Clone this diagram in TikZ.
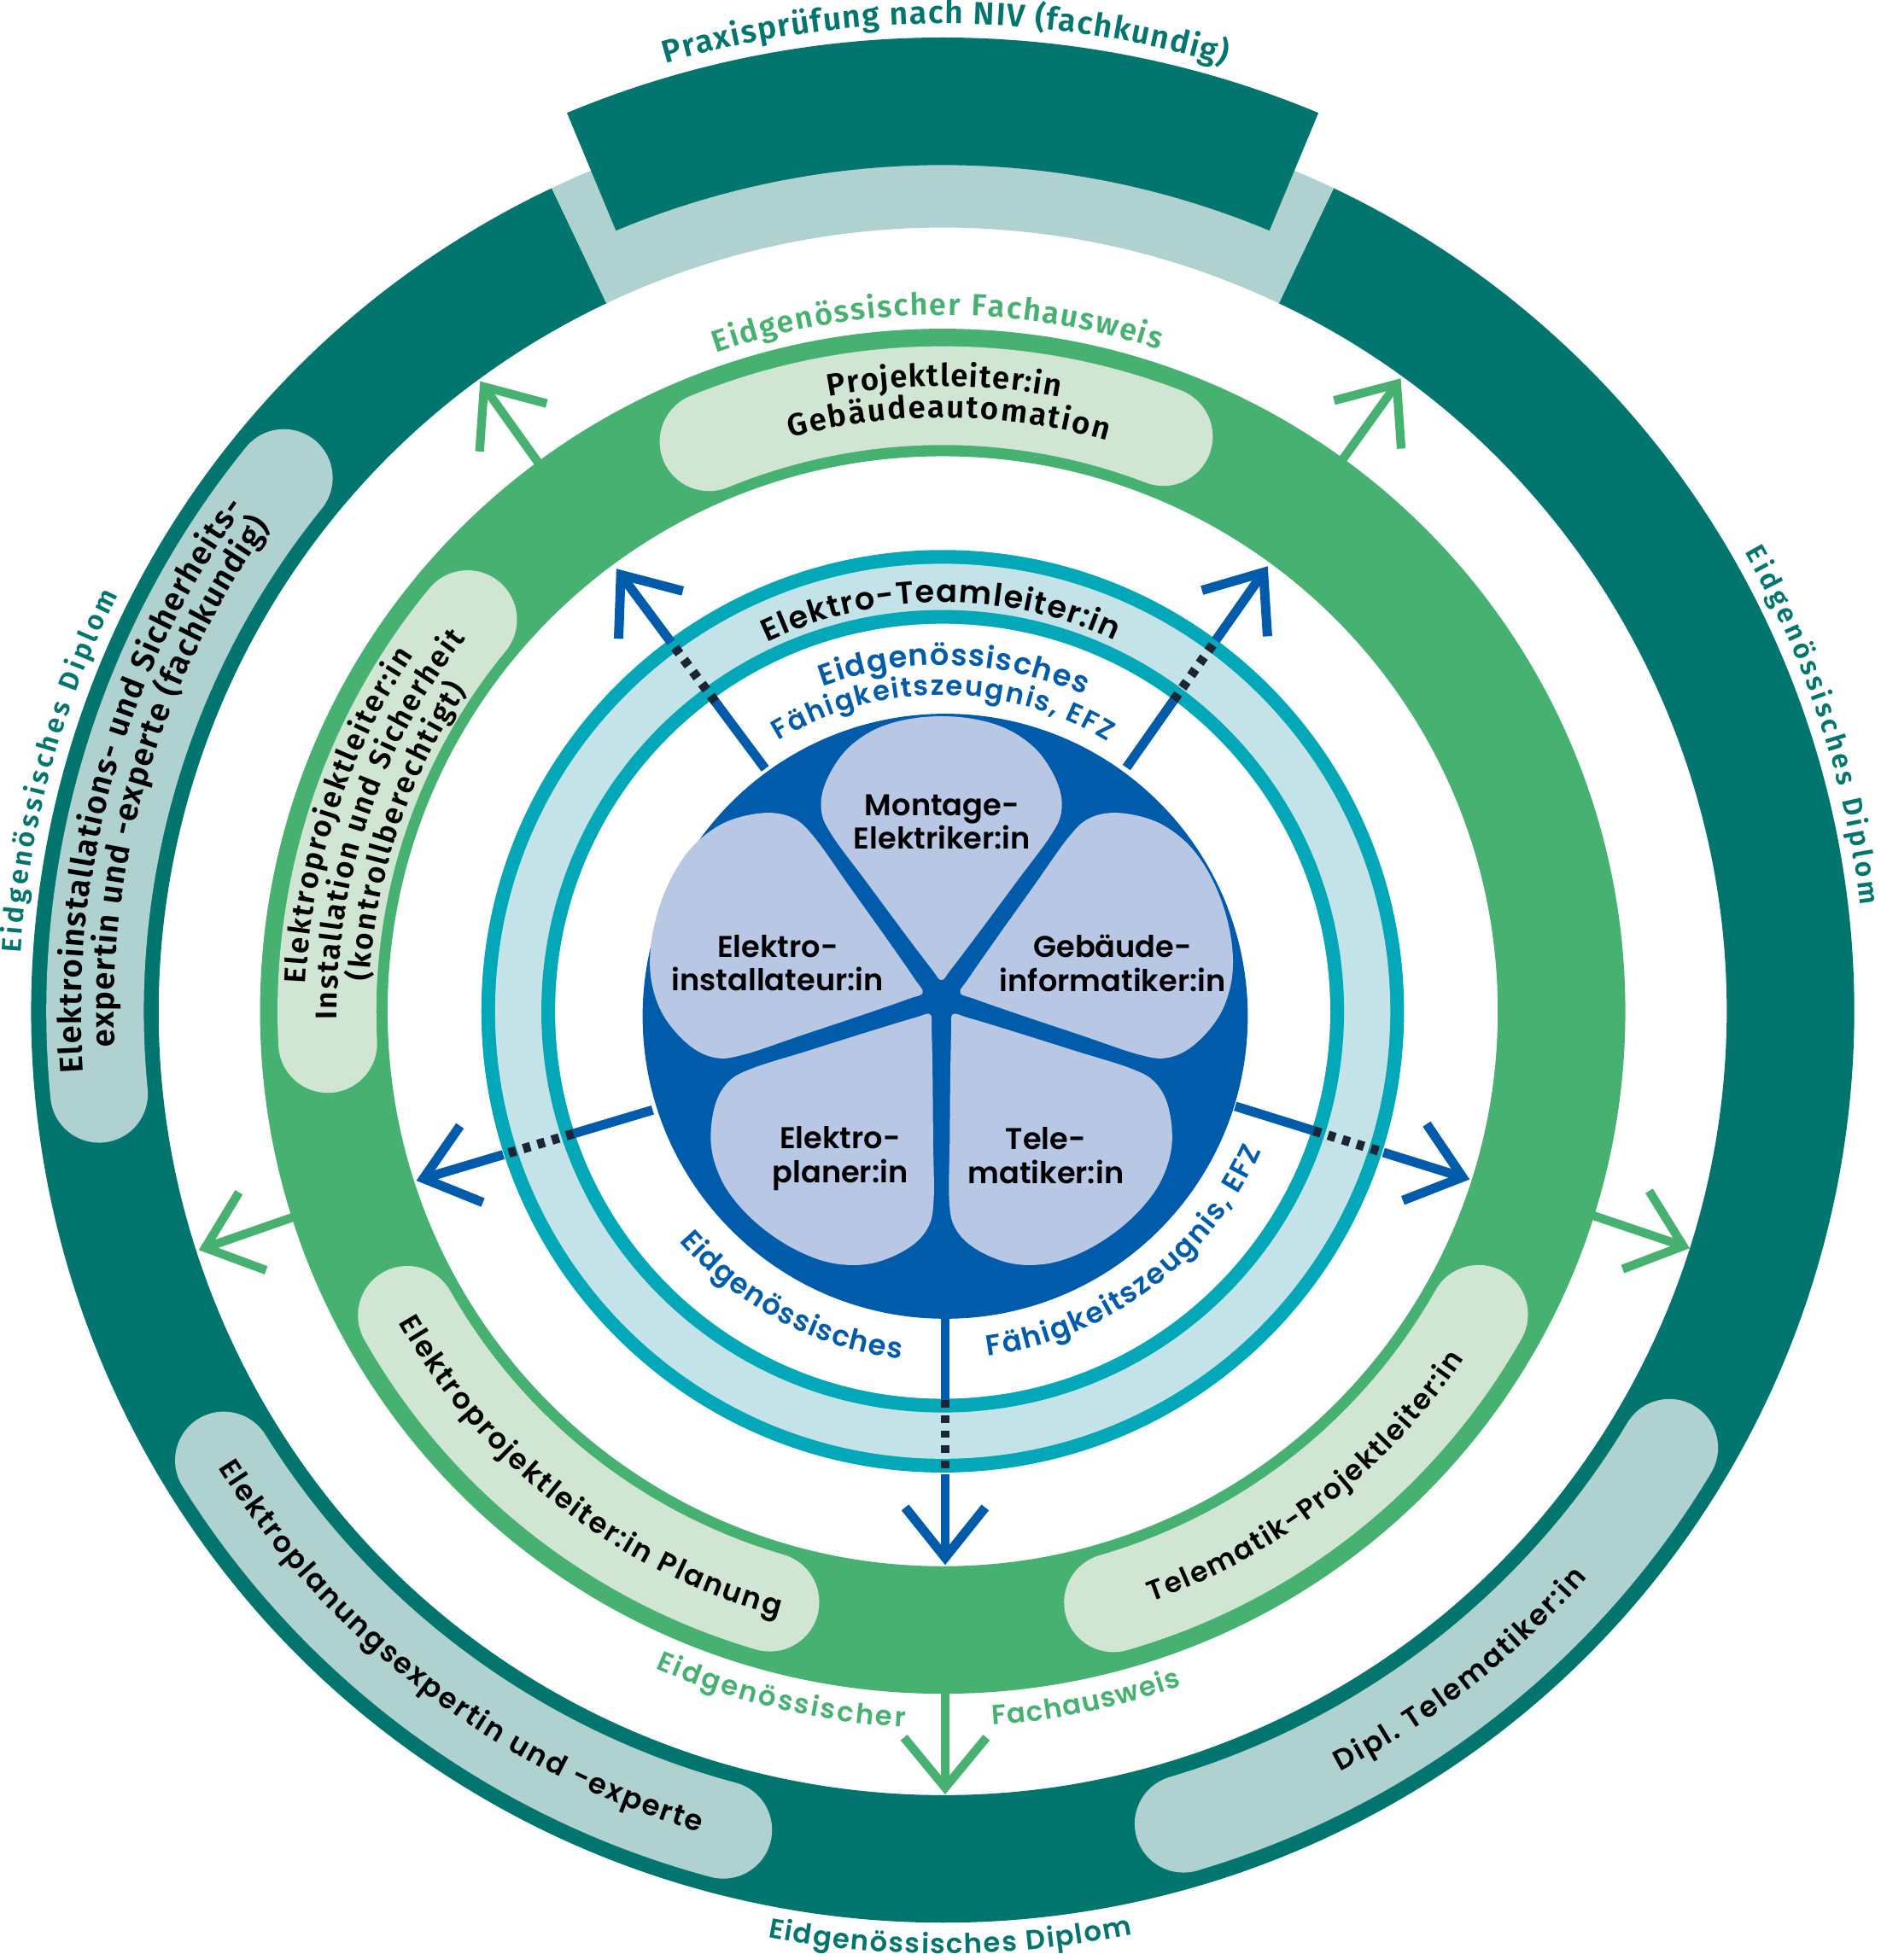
\documentclass[tikz,border=0pt]{standalone}
\usepackage{fontspec}
\usetikzlibrary{arrows.meta,decorations.text,calc}
\newfontfamily\fira{Fira Sans}[BoldFont={Fira Sans SemiBold}]
\newfontfamily\pop{Poppins}[BoldFont={Poppins SemiBold}]
\definecolor{dteal}{RGB}{2,118,110}
\definecolor{lteal}{RGB}{175,209,207}
\definecolor{gring}{RGB}{71,177,113}
\definecolor{lgreen}{RGB}{208,229,210}
\definecolor{tealring}{RGB}{3,168,184}
\definecolor{tealband}{RGB}{196,227,232}
\definecolor{dblue}{RGB}{0,91,170}
\definecolor{petalc}{RGB}{184,199,228}
\definecolor{navy}{RGB}{28,37,56}
\newcommand\arctext[7]{%
  \path[decorate,decoration={text along path,text align=fit to path,text color=#3,
    text={|#1\fontsize{#2}{#2}\selectfont|#7}}]
    (#5:#4) arc[start angle=#5,end angle=#6,radius=#4];}
\newcommand\petalshape[2]{%
  \begin{scope}[shift={(F)},rotate=#1-90,scale=#2]
    \fill[petalc] plot[smooth cycle,tension=0.6] coordinates {(0,15) (8,24) (30,53) (60,93.5) (87,130) (96,150) (93,172) (78,197) (56,214) (30,223) (0,226) (-30,223) (-56,214) (-78,197) (-93,172) (-96,150) (-87,130) (-60,93.5) (-30,53) (-8,24)};
  \end{scope}}
\begin{document}
\begin{tikzpicture}[x=1pt,y=1pt,
  bluearr/.style={line width=7.5pt,draw=dblue},
  bluehead/.style={-{Straight Barb[length=40pt,width=64pt]}},
  greenarr/.style={line width=7pt,draw=gring,-{Straight Barb[length=40pt,width=66pt]}},
  dashseg/.style={line width=7.5pt,draw=navy,dash pattern=on 6pt off 6pt},
  pilld/.style={line width=78pt,line cap=round,draw=lteal},
  pillg/.style={line width=79pt,line cap=round,draw=lgreen},
  petaltext/.style={font=\pop\bfseries\fontsize{24}{27}\selectfont,align=center,inner sep=0pt,text=black}]
\useasboundingbox (-754,-759) rectangle (750,809);
\fill[white] (-754,-759) rectangle (750,809);
\coordinate (C) at (0,0);
\coordinate (F) at (-1,10);
% outer ring
\draw[line width=102pt,dteal] (115.4:678) arc[start angle=115.4,end angle=424.6,radius=678];
\draw[line width=102pt,lteal] (64.6:678) arc[start angle=64.6,end angle=115.4,radius=678];
\draw[line width=102pt,dteal] (67.3:728) arc[start angle=67.3,end angle=112.7,radius=728];
% dark pills
\draw[pilld] (141:678) arc[start angle=141,end angle=185.6,radius=678];
\draw[pilld] (212:678) arc[start angle=212,end angle=255,radius=678];
\draw[pilld] (286.5:678) arc[start angle=286.5,end angle=329,radius=678];
% green ring
\draw[line width=102pt,gring] (C) circle[radius=495];
\draw[pillg] (69:492.5) arc[start angle=69,end angle=112.3,radius=492.5];
\draw[pillg] (140.5:492.5) arc[start angle=140.5,end angle=183,radius=492.5];
\draw[pillg] (209.6:492.5) arc[start angle=209.6,end angle=253.7,radius=492.5];
\draw[pillg] (286.1:492.5) arc[start angle=286.1,end angle=330.5,radius=492.5];
% green arrows
\coordinate (gs1) at (-315,427); \coordinate (gt1) at (-370,504);
\coordinate (gs2) at (311,429); \coordinate (gt2) at (366.4,506.3);
\coordinate (gs3) at (2,-535); \coordinate (gt3) at (2,-626.5);
\coordinate (gs4) at (-503,-159); \coordinate (gt4) at (-595,-191);
\coordinate (gs5) at (505.4,-158.4); \coordinate (gt5) at (597.5,-189.6);
\foreach \i in {1,...,5} {\draw[greenarr] (gs\i) -- (gt\i);}
% teal rings
\fill[tealring] (C) circle[radius=369];
\fill[tealband] (C) circle[radius=358];
\fill[tealring] (C) circle[radius=321];
\fill[white] (C) circle[radius=310];
% blue core
\fill[dblue] (2,-4) circle[radius=242];
% blue arrows
\coordinate (bs1) at (-142,194); \coordinate (bt1) at (-261,354);
\coordinate (bs2) at (147,195); \coordinate (bt2) at (260,356);
\coordinate (bs3) at (2,-245); \coordinate (bt3) at (2,-443);
\coordinate (bs4) at (-232,-79); \coordinate (bt4) at (-421,-135.5);
\coordinate (bs5) at (234,-76); \coordinate (bt5) at (421.5,-134.5);
\foreach \i in {1,...,5} {
  \coordinate (ba\i) at ($(bs\i)!0.335!(bt\i)$);
  \coordinate (bb\i) at ($(bs\i)!0.632!(bt\i)$);
  \draw[bluearr] (bs\i) -- (ba\i);
  \draw[dashseg] (ba\i) -- (bb\i);
  \draw[bluearr,bluehead] (bb\i) -- (bt\i);
}
% petals
\petalshape{90}{1}
\petalshape{162}{1.05}
\petalshape{234}{1.03}
\petalshape{306}{1.03}
\petalshape{18}{1.05}
\node[petaltext] (mont) at (-0.5,151.5) {Montage-\\Elektriker:in};
\node[petaltext] (inst) at (-132,38.5) {Elektro-\\installateur:in};
\node[petaltext] (gebi) at (136,38.5) {Gebäude-\\informatiker:in};
\node[petaltext] (plan) at (-82,-117.75) {Elektro-\\planer:in};
\node[petaltext] (tele) at (82.5,-115.5) {Tele-\\matiker:in};
% arc texts
\arctext{\fira\bfseries}{25.5}{dteal}{790}{106.3}{73.4}{Praxisprüfung nach NIV (fachkundig)}
\arctext{\fira\bfseries}{24.5}{gring}{557}{109}{71.9}{Eidgenössischer Fachausweis}
\arctext{\fira\bfseries}{22}{dteal}{739}{176.4}{153.2}{Eidgenössisches Diplom}
\arctext{\fira\bfseries}{22}{dteal}{739}{29.8}{6.6}{Eidgenössisches Diplom}
\arctext{\pop\bfseries}{22}{dteal}{754}{259.3}{281.6}{Eidgenössisches Diplom}
\arctext{\pop\bfseries}{25}{black}{327}{115.4}{65.1}{Elektro-Teamleiter:in}
\arctext{\pop\bfseries}{24}{dblue}{277}{110.3}{65.9}{Eidgenössisches}
\arctext{\pop\bfseries}{22}{dblue}{253}{121.3}{58.6}{Fähigkeitszeugnis, EFZ}
\arctext{\pop\bfseries}{23}{dblue}{280}{221.1}{263.2}{Eidgenössisches}
\arctext{\pop\bfseries}{23}{dblue}{278}{277.4}{336.4}{Fähigkeitszeugnis, EFZ}
\arctext{\pop\bfseries}{22}{gring}{573.5}{246.4}{267}{Eidgenössischer}
\arctext{\pop\bfseries}{22}{gring}{572.5}{274}{289.5}{Fachausweis}
\arctext{\fira\bfseries}{25}{black}{500}{100.5}{79.2}{Projektleiter:in}
\arctext{\fira\bfseries}{25}{black}{475}{104.9}{73.9}{Gebäudeautomation}
\arctext{\fira\bfseries}{24}{black}{510}{177.5}{146.1}{Elektroprojektleiter:in}
\arctext{\fira\bfseries}{24}{black}{484.5}{180.8}{142}{Installation und Sicherheit}
\arctext{\fira\bfseries}{24}{black}{459}{177}{146}{(kontrollberechtigt)}
\arctext{\fira\bfseries}{26}{black}{689}{184.1}{144.2}{Elektroinstallations- und Sicherheits-}
\arctext{\fira\bfseries}{26}{black}{663}{182.5}{144.2}{expertin und -experte (fachkundig)}
\arctext{\pop\bfseries}{23}{black}{685}{212.2}{253.5}{Elektroplanungsexpertin und -experte}
\arctext{\pop\bfseries}{23}{black}{686.5}{297.6}{318.7}{Dipl. Telematiker:in}
\arctext{\pop\bfseries}{23}{black}{501.5}{209.8}{254.8}{Elektroprojektleiter:in Planung}
\arctext{\pop\bfseries}{22.5}{black}{501}{289.5}{326.3}{Telematik-Projektleiter:in}
\end{tikzpicture}
\end{document}
